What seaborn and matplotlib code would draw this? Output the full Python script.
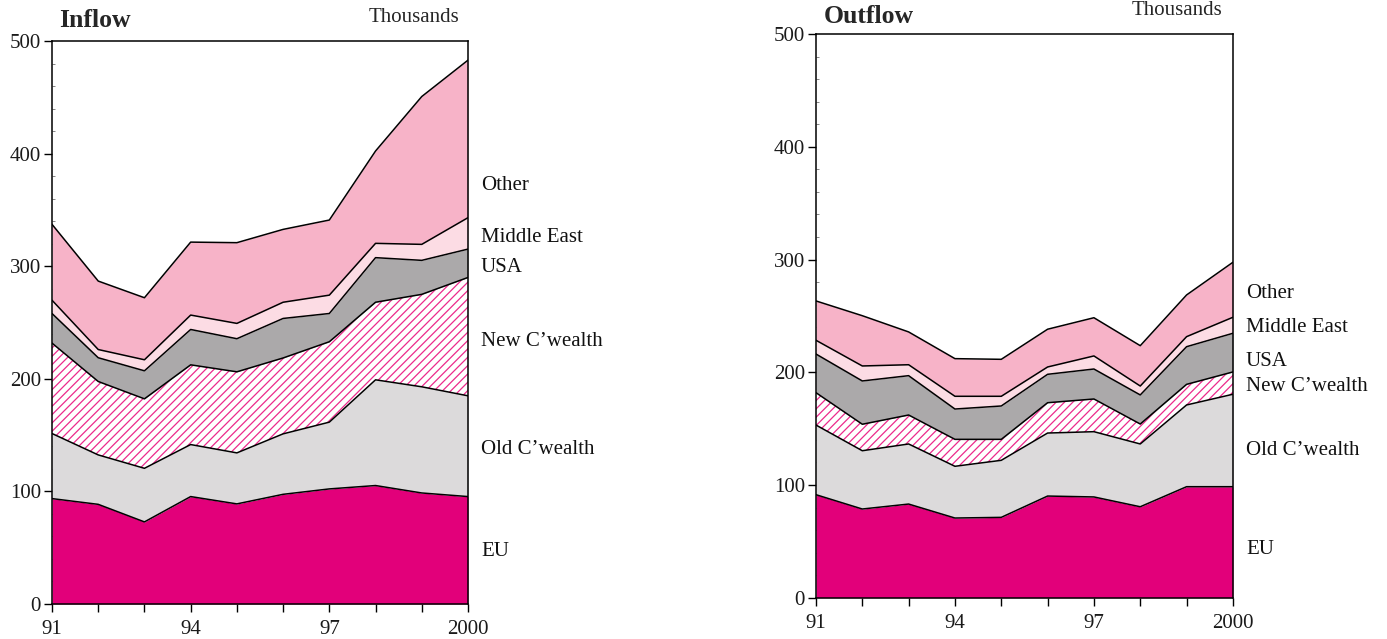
import numpy as np
import pandas as pd
import seaborn as sns
from matplotlib import pyplot as plt

years = [1991, 1992, 1993, 1994, 1995, 1996, 1997, 1998, 1999, 2000]
regions = ["EU", "Old C\u2019wealth", "New C\u2019wealth", "USA", "Middle East", "Other"]

in_eu    = [93.6, 88.5, 72.9, 95.4, 88.9, 97.4, 102.2, 105.2, 98.6, 95.4]
in_old   = [151.4, 132.4, 120.5, 141.6, 134.2, 151.1, 161.5, 199.1, 192.9, 184.9]
in_new   = [231.7, 197.6, 182.2, 212.4, 206.2, 218.5, 232.9, 268.0, 275.0, 290.0]
in_usa   = [258.0, 218.7, 207.1, 243.8, 235.6, 253.6, 258.0, 307.6, 305.2, 315.2]
in_me    = [269.8, 226.0, 216.9, 256.6, 249.2, 268.0, 274.3, 320.3, 319.4, 343.1]
in_other = [337.2, 286.8, 272.0, 321.4, 320.9, 332.7, 341.0, 402.3, 450.7, 483.0]

out_eu    = [91.4, 78.7, 83.1, 70.7, 71.3, 90.2, 89.4, 80.7, 98.5, 98.5]
out_old   = [153.2, 130.4, 136.4, 116.6, 121.9, 146.1, 147.3, 136.4, 171.0, 180.5]
out_new   = [181.9, 153.9, 162.1, 140.5, 140.5, 173.0, 176.3, 154.1, 189.3, 200.3]
out_usa   = [216.2, 192.3, 197.0, 167.4, 170.1, 198.2, 202.9, 179.9, 222.7, 234.6]
out_me    = [228.4, 205.6, 206.7, 178.7, 178.7, 204.7, 214.5, 187.8, 231.6, 248.8]
out_other = [263.3, 250.2, 235.8, 212.1, 211.5, 238.2, 248.4, 223.6, 268.6, 297.6]

xtick_years = [1991, 1994, 1997, 2000]
xtick_labels = ["91", "94", "97", "2000"]

colors = ["#E2007A", "#DCDADB", "#FFFFFF", "#ABA9AA", "#FCDCE4", "#F7B3C8"]
hatch_color = "#EC2A8C"

# label y positions (layout only)
in_label_y = [46.5, 137.2, 233.2, 298.9, 325.6, 371.8]
out_label_y = [43.2, 131.0, 187.0, 209.2, 239.3, 269.5]

sns.set_style("ticks")
plt.rcParams['font.family'] = ['Liberation Serif', 'DejaVu Serif']
plt.rcParams['hatch.linewidth'] = 0.9

fig = plt.figure(figsize=(13.87, 6.39), dpi=100)
ax1 = fig.add_axes([0.0375, 0.0548, 0.2999, 0.881])
ax2 = fig.add_axes([0.5883, 0.0646, 0.3006, 0.882])


def draw(ax, tops, label_y, title, title_x, title_y, thous_x, thous_y):
    df = pd.DataFrame({"year": years})
    prev = np.zeros(len(years))
    for i, (name, top) in enumerate(zip(regions, tops)):
        top = np.array(top)
        if i == 2:
            ax.fill_between(years, prev, top, facecolor="white", edgecolor=hatch_color,
                            hatch="////", linewidth=0)
        else:
            ax.fill_between(years, prev, top, facecolor=colors[i], linewidth=0)
        df[name] = top
        prev = top
    long = df.melt(id_vars="year", var_name="region", value_name="value")
    sns.lineplot(data=long, x="year", y="value", units="region", estimator=None,
                 color="black", linewidth=1.1, ax=ax, legend=False)

    ax.set_xlim(1991, 2000)
    ax.set_ylim(0, 500)
    ax.set_xticks(years)
    ax.set_xticklabels([xtick_labels[xtick_years.index(y)] if y in xtick_years else ""
                        for y in years])
    ax.set_yticks(range(0, 501, 100))
    ax.set_yticks(range(0, 501, 20), minor=True)
    ax.tick_params(axis="both", which="major", direction="out", length=6, width=1,
                   labelsize=15, color="black", labelcolor="#1a1a1a", pad=2)
    ax.tick_params(axis="x", which="major", pad=5.5)
    ax.tick_params(axis="y", which="minor", direction="in", length=2, width=0.5,
                   color="#555555")
    ax.set_xlabel("")
    ax.set_ylabel("")
    for s in ax.spines.values():
        s.set_visible(True)
        s.set_linewidth(1.1)
        s.set_color("black")

    for name, ly in zip(regions, label_y):
        ax.text(2000.28, ly, name, fontsize=15, va="center", ha="left", color="#111111",
                clip_on=False)

    fig.text(title_x, title_y, title, fontsize=18.5, fontweight="bold", ha="left",
             va="center")
    fig.text(thous_x, thous_y, "Thousands", fontsize=15, ha="center", va="center")


draw(ax1, [in_eu, in_old, in_new, in_usa, in_me, in_other], in_label_y,
     "Inflow", 0.0425, 0.968, 0.2985, 0.973)
draw(ax2, [out_eu, out_old, out_new, out_usa, out_me, out_other], out_label_y,
     "Outflow", 0.5940, 0.974, 0.8486, 0.984)

fig.savefig("out.png", dpi=100)
